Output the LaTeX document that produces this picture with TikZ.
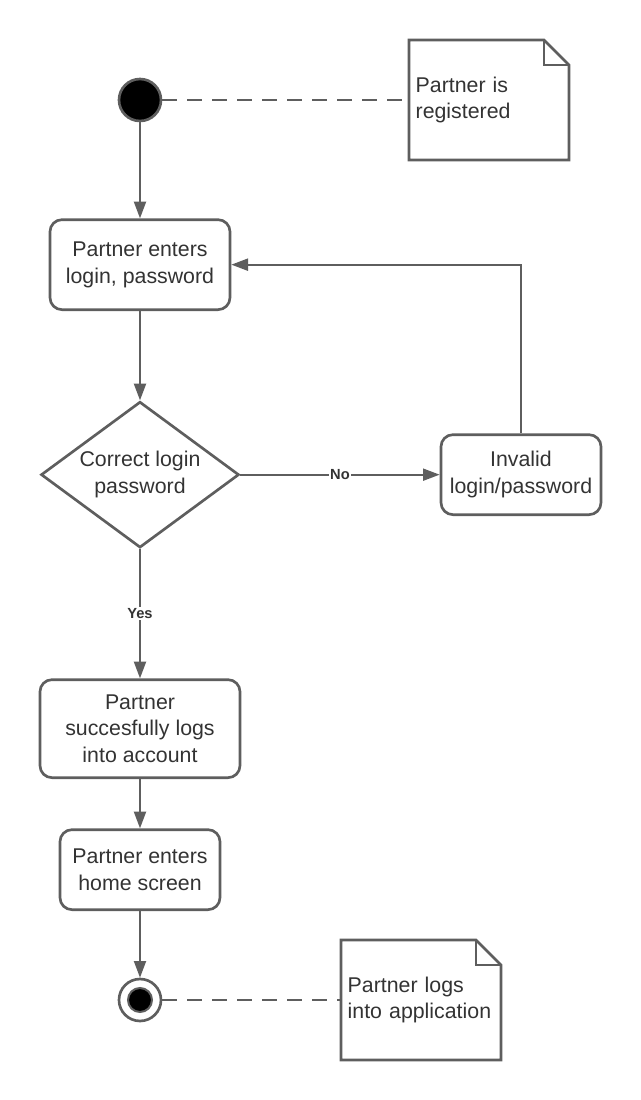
\documentclass[tikz,border=0pt]{standalone}
\usepackage{fontspec}
\setmainfont{Liberation Sans}
\usepackage{tikz}
\usetikzlibrary{positioning, arrows.meta, shapes.geometric}

\definecolor{linegray}{HTML}{5E5E5E}
\definecolor{textgray}{HTML}{333333}

\begin{document}
\begin{tikzpicture}[
  font=\fontsize{16}{20}\selectfont, text=textgray,
  box/.style={draw=linegray, line width=2pt, rounded corners=9pt,
    align=center, fill=white, inner sep=2pt},
  decision/.style={draw=linegray, line width=2pt, diamond, aspect=1.35,
    inner sep=0pt, minimum width=148.5pt, minimum height=109.5pt, align=center},
  initial/.style={circle, draw=linegray, line width=2pt, fill=black,
    minimum size=31.5pt, inner sep=0pt},
  final/.style={circle, draw=linegray, line width=2pt, fill=white,
    minimum size=31.5pt, inner sep=0pt},
  finaldot/.style={circle, draw=linegray, line width=1.5pt, fill=black,
    minimum size=18pt, inner sep=0pt},
  note/.style={minimum width=120pt, minimum height=90pt, text width=110pt,
    inner sep=5pt, outer sep=0pt, align=left},
  notebox/.style={draw=linegray, line width=2pt, line join=miter},
  arrow/.style={-{Triangle[length=12.5pt, width=9pt]}, draw=linegray, line width=1.5pt},
  link/.style={draw=linegray, line width=1.5pt, dash pattern=on 11.25pt off 7.5pt},
  guard/.style={font=\fontsize{11}{13}\selectfont\bfseries, fill=white, inner sep=1pt},
]
  \useasboundingbox (-105pt,75pt) rectangle (375pt,-750pt);

  \node[initial] (start) at (0,0) {};
  \node[box, below=72pt of start, minimum width=135pt, minimum height=67.5pt] (enter)
    {Partner enters\\ login, password};
  \node[decision, below=67pt of enter] (check) {Correct login\\ password};
  \node[box, right=149.5pt of check, minimum width=120pt, minimum height=60pt] (invalid)
    {Invalid\\ login/password};
  \node[box, below=97pt of check, minimum width=150pt, minimum height=73.5pt] (success)
    {Partner\\ succesfully logs\\ into account};
  \node[box, below=37pt of success, minimum width=120pt, minimum height=60pt] (home)
    {Partner enters\\ home screen};
  \node[final, below=50pt of home] (end) {};
  \node[finaldot] (enddot) at (end) {};

  % notes with folded corner
  \node[note, right=185pt of start] (regnote) {Partner is\\ registered};
  \node[note, right=134pt of end] (appnote) {Partner logs\\ into application};
  \foreach \n in {regnote, appnote} {
    \draw[notebox] (\n.north west) -- ([xshift=-18.75pt]\n.north east)
      -- ([yshift=-18.75pt]\n.north east) -- (\n.south east)
      -- (\n.south west) -- cycle;
    \draw[notebox] ([xshift=-18.75pt]\n.north east) |- ([yshift=-18.75pt]\n.north east);
  }

  \draw[link] (start) -- (regnote);
  \draw[link] (end) -- (appnote);

  \draw[arrow] (start) -- (enter);
  \draw[arrow] (enter) -- (check);
  \draw[arrow] (check) -- node[guard] {No} (invalid);
  \draw[arrow] (invalid.north) |- (enter.east);
  \draw[arrow] (check) -- node[guard] {Yes} (success);
  \draw[arrow] (success) -- (home);
  \draw[arrow] (home) -- (end);
\end{tikzpicture}
\end{document}
